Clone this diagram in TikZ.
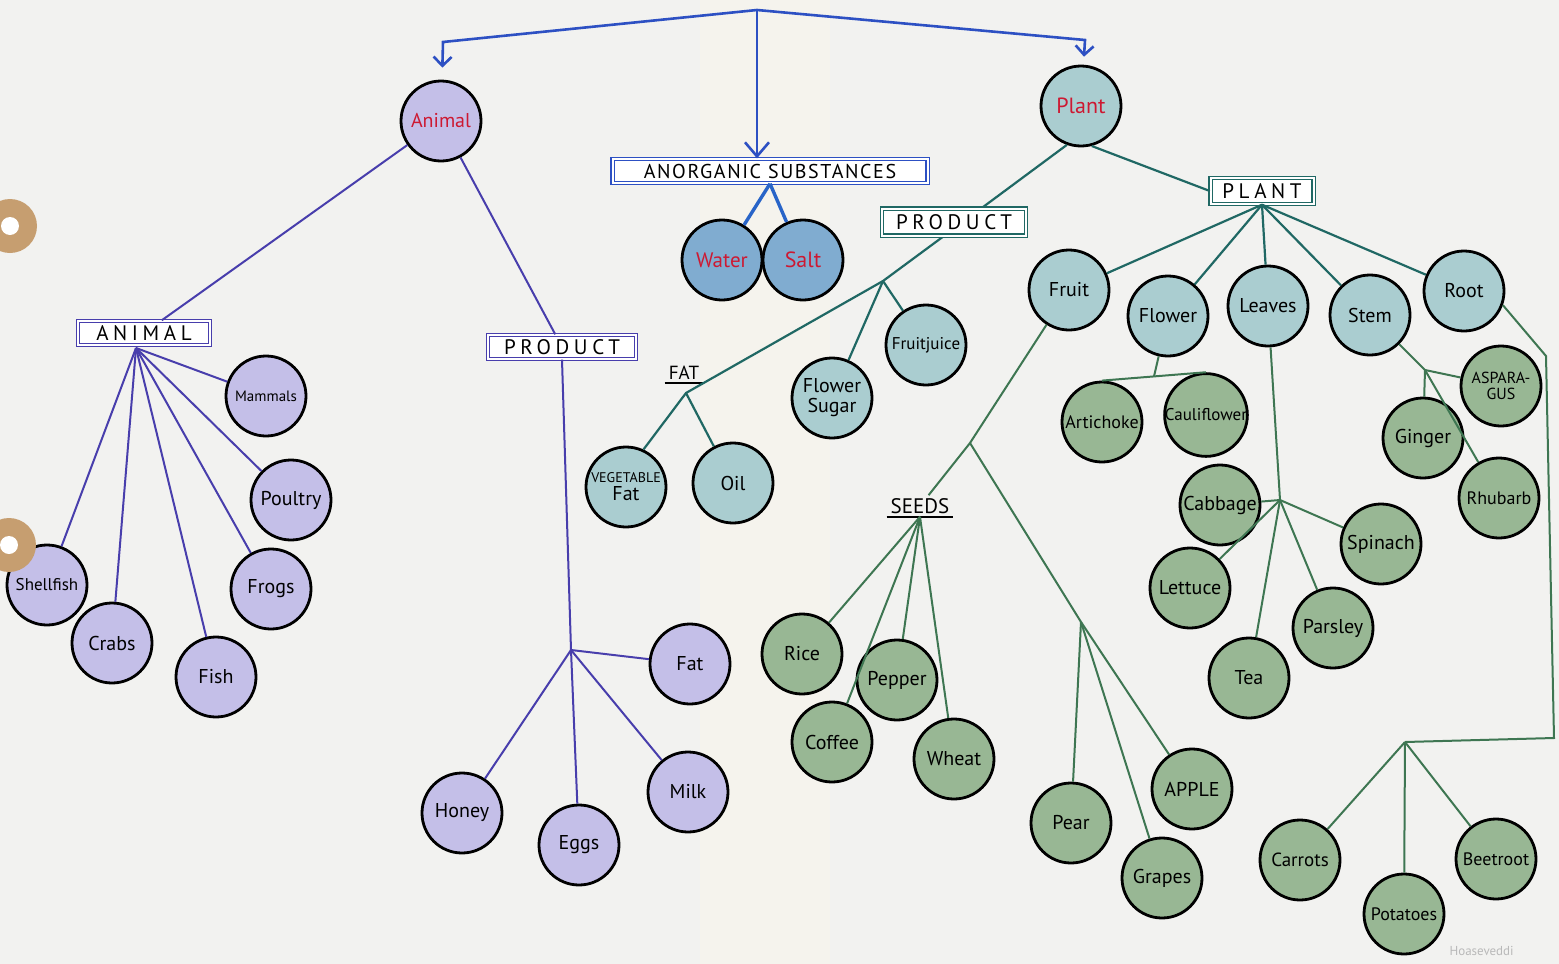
\documentclass[tikz,border=0pt]{standalone}
\usepackage{fontspec}
\setmainfont{PT Sans}
\newfontfamily\capsfont[LetterSpace=8]{PT Sans}
\newfontfamily\widecaps[LetterSpace=22]{PT Sans}
\usetikzlibrary{arrows.meta,positioning,calc}

\definecolor{paper}{RGB}{242,242,240}
\definecolor{foldband}{RGB}{245,243,237}
\definecolor{lavender}{RGB}{196,191,232}
\definecolor{paleteal}{RGB}{170,205,208}
\definecolor{sage}{RGB}{152,183,148}
\definecolor{seablue}{RGB}{128,172,208}
\definecolor{inkred}{RGB}{205,25,50}
\definecolor{inkblue}{RGB}{45,80,195}
\definecolor{waterblue}{RGB}{40,100,200}
\definecolor{inkviolet}{RGB}{72,62,172}
\definecolor{inkteal}{RGB}{32,104,100}
\definecolor{inkgreen}{RGB}{62,118,82}
\definecolor{ringbrown}{RGB}{198,158,112}

\begin{document}
\begin{tikzpicture}[x=1pt,y=-1pt,
  food/.style={circle, draw=black, line width=2.8pt, minimum size=80pt, inner sep=0pt, align=center, font=\fontsize{20}{21}\selectfont},
  animalfood/.style={food, fill=lavender},
  plantfood/.style={food, fill=paleteal},
  greenfood/.style={food, fill=sage},
  mineral/.style={food, fill=seablue, text=inkred},
  smalltxt/.style={font=\fontsize{17}{18}\selectfont},
  catbox/.style={draw=#1, double=white, double distance=2pt, line width=1.4pt, fill=white, minimum height=24pt, inner sep=2pt, font=\widecaps\fontsize{21}{22}\selectfont},
  undertxt/.style={font=\fontsize{19}{20}\selectfont, inner xsep=4pt, inner ysep=3pt},
  toparrow/.style={draw=inkblue, line width=2.6pt, -{Straight Barb[length=9pt,width=18pt]}},
  aline/.style={draw=inkviolet, line width=2pt},
  bline/.style={draw=waterblue, line width=3.4pt},
  tline/.style={draw=inkteal, line width=2.2pt},
  gline/.style={draw=inkgreen, line width=2pt}
]
\useasboundingbox (0,0) rectangle (1559,964);
\fill[paper] (0,0) rectangle (1559,964);
\fill[foldband] (700,0) rectangle (830,964);

% top level
\node[animalfood, text=inkred] (animal) at (441,121) {Animal};
\node[plantfood, text=inkred, font=\fontsize{22}{23}\selectfont] (plant) at (1081,106) {Plant};
\node[catbox=inkblue, font=\capsfont\fontsize{20}{21}\selectfont, minimum width=315pt] (anorg) at (770,171) {ANORGANIC SUBSTANCES};
\coordinate (top) at (757,10);
\coordinate (lcorner) at (443,42);
\coordinate (rcorner) at (1085,40);

\draw[toparrow, shorten >=12pt] (top) -- (lcorner) -- (animal);
\draw[toparrow, shorten >=8pt] (top) -- (rcorner) -- (plant);
\draw[toparrow, -{Straight Barb[length=14pt,width=24pt]}] (top) -- (top |- anorg.north);

% anorganic
\node[mineral, font=\fontsize{21}{22}\selectfont] (water) at (722,260) {Water};
\node[mineral, font=\fontsize{22}{23}\selectfont] (salt) at (803,260) {Salt};
\draw[bline] (anorg.south) -- (water);
\draw[bline] (anorg.south) -- (salt);

% animal
\node[catbox=inkviolet, minimum width=132pt] (animalbox) at (144,333) {ANIMAL};
\node[animalfood, font=\fontsize{15}{16}\selectfont] (mammals) at (266,396) {Mammals};
\node[animalfood] (poultry) at (291,500) {Poultry};
\node[animalfood] (frogs) at (271,589) {Frogs};
\node[animalfood] (fish) at (216,677) {Fish};
\node[animalfood] (crabs) at (112,643) {Crabs};
\node[animalfood, smalltxt] (shellfish) at (47,585) {Shellfish};
\coordinate (afan) at (136,348);

\draw[aline] (animal) -- (animalbox);
\foreach \n in {mammals,poultry,frogs,fish,crabs,shellfish}
  \draw[aline] (afan) -- (\n);

% animal product
\node[catbox=inkviolet, minimum width=148pt] (aprod) at (562,347) {PRODUCT};
\node[animalfood] (afat) at (690,664) {Fat};
\node[animalfood] (honey) at (462,813) {Honey};
\node[animalfood] (eggs) at (579,845) {Eggs};
\node[animalfood] (milk) at (688,792) {Milk};
\coordinate (pj) at (571,650);

\draw[aline] (animal) -- (aprod);
\draw[aline] (aprod.south) -- (pj);
\foreach \n in {afat,honey,eggs,milk}
  \draw[aline] (pj) -- (\n);

% plant product
\node[plantfood, font=\fontsize{20}{18}\selectfont] (vegfat) at (626,487) {{\fontsize{14}{15}\selectfont VEGETABLE}\\Fat};
\node[plantfood] (oil) at (733,483) {Oil};
\node[plantfood, font=\fontsize{20}{20}\selectfont] (sugar) at (832,398) {Flower\\Sugar};
\node[plantfood, smalltxt] (juice) at (926,345) {Fruitjuice};
\node[undertxt] (fatlab) at (684,373) {FAT};
\draw[line width=1.6pt] (fatlab.south west) -- (fatlab.south east);
\coordinate (pbend) at (948,233);
\coordinate (sugj) at (883,281);
\coordinate (fatj) at (686,393);

\draw[tline] (plant.250) -- (pbend) -- (sugj) -- (fatj) -- (vegfat.65);
\draw[tline] (fatj) -- (oil);
\draw[tline] (sugj) -- (sugar);
\draw[tline] (sugj) -- (juice);
\node[catbox=inkteal, minimum width=144pt, minimum height=27pt] (pprod) at (954,222) {PRODUCT};

% plant parts
\node[catbox=inkteal, minimum width=103pt, minimum height=26pt] (pbox) at (1262,191) {PLANT};
\node[plantfood] (fruit) at (1069,290) {Fruit};
\node[plantfood] (flower) at (1168,316) {Flower};
\node[plantfood] (leaves) at (1268,306) {Leaves};
\node[plantfood] (stem) at (1370,315) {Stem};
\node[plantfood] (root) at (1464,291) {Root};

\draw[tline] (plant.285) -- (pbox.west);
\foreach \n in {fruit,flower,leaves,stem,root}
  \draw[tline] (pbox.south) -- (\n);

% flower
\node[greenfood, font=\fontsize{18}{19}\selectfont] (artichoke) at (1102,422) {Artichoke};
\node[greenfood, smalltxt] (cauliflower) at (1206,415) {Cauliflower};
\coordinate (flj) at ($(artichoke.north)!0.5!(cauliflower.north)$);
\draw[gline] (artichoke.north) -- (cauliflower.north);
\draw[gline] (flower) -- (flj);

% leaves
\node[greenfood] (cabbage) at (1220,505) {Cabbage};
\node[greenfood] (lettuce) at (1190,588) {Lettuce};
\node[greenfood] (tea) at (1249,678) {Tea};
\node[greenfood] (parsley) at (1333,628) {Parsley};
\node[greenfood] (spinach) at (1381,544) {Spinach};
\coordinate (lvj) at (1280,500);
\draw[gline] (leaves) -- (lvj);
\foreach \n in {cabbage,lettuce,tea,parsley,spinach}
  \draw[gline] (lvj) -- (\n);

% stem
\node[greenfood, font=\fontsize{16}{16}\selectfont] (asparagus) at (1501,386) {ASPARA-\\GUS};
\node[greenfood] (ginger) at (1423,438) {Ginger};
\node[greenfood, font=\fontsize{18}{19}\selectfont] (rhubarb) at (1499,498) {Rhubarb};
\coordinate (stj) at (1425,370);
\draw[gline] (stem) -- (stj) -- (rhubarb);
\draw[gline] (stj) -- (asparagus);
\draw[gline] (stj) -- (ginger);

% root
\node[greenfood, font=\fontsize{19}{20}\selectfont] (carrots) at (1300,860) {Carrots};
\node[greenfood, font=\fontsize{18}{19}\selectfont] (potatoes) at (1404,914) {Potatoes};
\node[greenfood, font=\fontsize{18}{19}\selectfont] (beetroot) at (1496,859) {Beetroot};
\coordinate (rt1) at (1546,356);
\coordinate (rt2) at (1554,738);
\coordinate (rtj) at (1405,742);
\draw[gline] (root.340) -- (rt1) -- (rt2) -- (rtj);
\foreach \n in {carrots,potatoes,beetroot}
  \draw[gline] (rtj) -- (\n);

% fruit and seeds
\node[undertxt, font=\fontsize{21}{22}\selectfont] (seedlab) at (920,506) {SEEDS};
\draw[line width=1.6pt] (seedlab.south west) -- (seedlab.south east);
\node[greenfood] (rice) at (802,654) {Rice};
\node[greenfood] (coffee) at (832,742) {Coffee};
\node[greenfood] (pepper) at (897,680) {Pepper};
\node[greenfood] (wheat) at (954,759) {Wheat};
\node[greenfood] (pear) at (1071,823) {Pear};
\node[greenfood] (grapes) at (1162,878) {Grapes};
\node[greenfood] (apple) at (1192,789) {APPLE};
\coordinate (frj) at (970,443);
\coordinate (pgj) at (1081,622);

\draw[gline] (fruit) -- (frj) -- (seedlab);
\foreach \n in {rice,coffee,pepper,wheat}
  \draw[gline] (seedlab.south) -- (\n);
\draw[gline] (frj) -- (pgj) -- (apple);
\draw[gline] (pgj) -- (pear);
\draw[gline] (pgj) -- (grapes);

% binder rings
\fill[ringbrown] (10,226) circle (27pt);
\fill[white] (10,226) circle (9pt);
\fill[ringbrown] (9,545) circle (27pt);
\fill[white] (9,545) circle (9pt);

\node[anchor=west, text=gray!55, font=\fontsize{13}{14}\selectfont] (sign) at (1446,951) {Hoaseveddi};
\end{tikzpicture}
\end{document}
